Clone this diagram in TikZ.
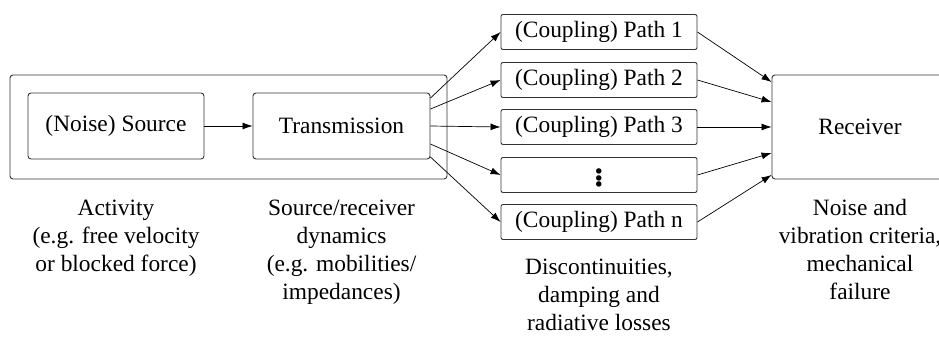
\documentclass[tikz,border=0pt]{standalone}
\usepackage{fontspec}
\setmainfont{Liberation Serif}
\usepackage{tikz}
\usetikzlibrary{arrows.meta,positioning}
\tikzstyle{block} = [rectangle, rounded corners=3pt, minimum height=66pt, text centered, draw=black!80, line width=0.9pt]
\tikzstyle{pathbox} = [rectangle, rounded corners=2pt, minimum width=196pt, minimum height=35pt, text centered, draw=black!80, line width=0.9pt]
\tikzstyle{note} = [align=center, inner sep=0pt]
\tikzstyle{arrow} = [line width=0.7pt,-{Latex[length=10pt,width=7pt]}]

\begin{document}
\begin{tikzpicture}[x=1pt,y=-1pt,font=\rmfamily\fontsize{23.4}{28}\selectfont]
    \useasboundingbox (0,0) rectangle (939,338);
    \clip (0,0) rectangle (939,338);

    \node (system) [block, minimum width=437pt, minimum height=104pt] at (228.5,127) {};
    \node (source) [block, minimum width=176pt] at (116,126) {(Noise) Source};
    \node (trans) [block, minimum width=177pt] at (341.5,126) {Transmission};
    \node (path1) [pathbox] at (599,32) {(Coupling) Path 1};
    \node (path2) [pathbox] at (599,80) {(Coupling) Path 2};
    \node (path3) [pathbox] at (599,127) {(Coupling) Path 3};
    \node (path4) [pathbox, inner sep=0pt] at (599,175) {\fontsize{46}{46}\selectfont$\vdots$};
    \node (pathn) [pathbox] at (599,222) {(Coupling) Path n};
    \node (receiver) [block, minimum width=176pt, minimum height=104pt] at (860,127) {Receiver};

    \node (activity) [note, below=40pt of source] {Activity\\(e.g. free velocity\\or blocked force)};
    \node (dynamics) [note, below=40pt of trans] {Source/receiver\\dynamics\\(e.g. mobilities/\\impedances)};
    \node (losses) [note, below=19pt of pathn] {Discontinuities,\\damping and\\radiative losses};
    \node (criteria) [note, below=20pt of receiver] {Noise and\\vibration criteria,\\mechanical\\failure};

    \draw[arrow] (source) -- (trans);
    \draw[arrow] ([yshift=28pt]trans.east) -- (path1.west);
    \draw[arrow] ([yshift=17pt]trans.east) -- (path2.west);
    \draw[arrow] (trans.east) -- (path3.west);
    \draw[arrow] ([yshift=-18pt]trans.east) -- (path4.west);
    \draw[arrow] ([yshift=-31pt]trans.east) -- (pathn.west);

    \draw[arrow] (path1.east) -- ([yshift=45pt]receiver.west);
    \draw[arrow] (path2.east) -- ([yshift=25pt]receiver.west);
    \draw[arrow] (path3.east) -- (receiver.west);
    \draw[arrow] (path4.east) -- ([yshift=-26pt]receiver.west);
    \draw[arrow] (pathn.east) -- ([yshift=-48pt]receiver.west);

\end{tikzpicture}
\end{document}
